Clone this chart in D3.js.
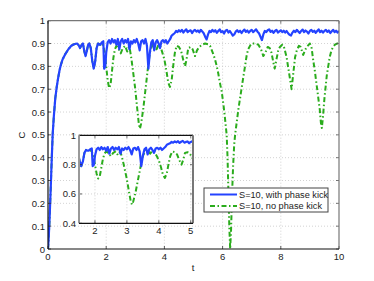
<!DOCTYPE html>
<html>
<head>
<meta charset="utf-8">
<script src="https://cdn.jsdelivr.net/npm/d3@7/dist/d3.min.js"></script>
<style>
body { margin: 0; background: #fff; }
text { font-family: "Liberation Sans", Arial, sans-serif; font-size: 9.5px; fill: #222; }
</style>
</head>
<body>
<svg id="chart" width="374" height="281"></svg>
<script>
// shared start of both runs (t, C)
var riseData = [[0,0],[0.02,0.04],[0.05,0.12],[0.08,0.22],[0.1,0.29],[0.13,0.4],[0.16,0.5],[0.2,0.58],
  [0.25,0.66],[0.3,0.71],[0.35,0.75],[0.4,0.785],[0.45,0.81],[0.5,0.83],[0.6,0.855],[0.7,0.875],
  [0.8,0.89],[0.9,0.897],[1.0,0.9],[1.05,0.893],[1.1,0.88],[1.15,0.893],[1.2,0.9],[1.25,0.865],
  [1.29,0.845],[1.33,0.865],[1.38,0.895],[1.42,0.9],[1.47,0.88],[1.52,0.825],[1.57,0.79],[1.62,0.82],
  [1.67,0.88],[1.72,0.9],[1.78,0.895]];

// S=10, with phase kick
var blueData = [[1.8,0.895],[1.85,0.905],[1.9,0.91],[1.93,0.79],[1.97,0.8],[2.0,0.86],[2.05,0.905],
  [2.1,0.915],[2.15,0.9],[2.2,0.92],[2.25,0.905],[2.3,0.915],[2.35,0.895],[2.4,0.92],[2.45,0.875],
  [2.5,0.91],[2.55,0.92],[2.6,0.9],[2.65,0.915],[2.7,0.905],[2.75,0.92],[2.8,0.875],[2.85,0.91],
  [2.9,0.9],[2.95,0.915],[3.0,0.905],[3.05,0.92],[3.1,0.9],[3.15,0.87],[3.2,0.91],[3.25,0.915],
  [3.3,0.9],[3.35,0.92],[3.4,0.89],[3.45,0.79],[3.5,0.86],[3.55,0.905],[3.6,0.915],[3.65,0.87],
  [3.7,0.905],[3.75,0.915],[3.8,0.9],[3.85,0.88],[3.9,0.91],[3.95,0.915],[4.0,0.905],[4.05,0.915],
  [4.1,0.9],[4.15,0.91],[4.2,0.92],[4.25,0.935],[4.3,0.94],
  [4.35,0.945],[4.4,0.955],[4.45,0.95],[4.5,0.958],[4.55,0.952],[4.6,0.96],[4.65,0.948],[4.7,0.956],
  [4.75,0.962],[4.8,0.95],[4.85,0.955],[4.9,0.958],[4.95,0.946],[5.0,0.955],[5.05,0.96],[5.1,0.952],
  [5.15,0.957],[5.2,0.949],[5.25,0.96],[5.3,0.953],[5.35,0.945],[5.4,0.93],[5.45,0.918],[5.5,0.94],
  [5.55,0.955],[5.6,0.95],[5.65,0.96],[5.7,0.952],[5.75,0.958],[5.8,0.947],[5.85,0.955],[5.9,0.962],
  [5.95,0.95],[6.0,0.954],[6.05,0.944],[6.1,0.956],[6.15,0.96],[6.2,0.948],[6.25,0.955],[6.3,0.945],
  [6.35,0.935],[6.4,0.94],[6.45,0.952],[6.5,0.958],[6.55,0.95],[6.6,0.956],[6.65,0.946],[6.7,0.955],
  [6.75,0.961],[6.8,0.951],[6.85,0.957],[6.9,0.948],[6.95,0.955],[7.0,0.96],[7.05,0.95],[7.1,0.956],
  [7.15,0.962],[7.2,0.952],[7.25,0.945],[7.3,0.93],[7.35,0.915],[7.4,0.94],[7.45,0.955],[7.5,0.95],
  [7.55,0.958],[7.6,0.962],[7.65,0.951],[7.7,0.956],[7.75,0.947],[7.8,0.955],[7.85,0.96],[7.9,0.948],
  [7.95,0.953],[8.0,0.958],[8.05,0.95],[8.1,0.956],[8.15,0.948],[8.2,0.955],[8.25,0.945],[8.3,0.938],
  [8.35,0.935],[8.4,0.948],[8.45,0.956],[8.5,0.95],[8.55,0.96],[8.6,0.953],[8.65,0.946],[8.7,0.955],
  [8.75,0.961],[8.8,0.95],[8.85,0.957],[8.9,0.952],[8.95,0.944],[9.0,0.955],[9.05,0.96],[9.1,0.951],
  [9.15,0.956],[9.2,0.947],[9.25,0.955],[9.3,0.962],[9.35,0.95],[9.4,0.956],[9.45,0.948],[9.5,0.955],
  [9.55,0.96],[9.6,0.951],[9.65,0.957],[9.7,0.946],[9.75,0.954],[9.8,0.96],[9.85,0.95],[9.9,0.956],
  [9.95,0.948],[10,0.955]];

// S=10, no phase kick
var greenData = [[1.8,0.895],[1.85,0.9],[1.9,0.89],[1.95,0.86],[2.0,0.8],[2.05,0.74],[2.1,0.705],
  [2.15,0.72],[2.2,0.78],[2.25,0.84],[2.3,0.875],[2.35,0.89],[2.42,0.88],[2.5,0.857],[2.57,0.88],
  [2.65,0.89],[2.72,0.865],[2.78,0.885],[2.82,0.87],[2.87,0.83],[2.93,0.77],[2.99,0.71],[3.07,0.61],
  [3.12,0.55],[3.16,0.527],[3.2,0.55],[3.27,0.61],[3.36,0.71],[3.44,0.8],[3.5,0.86],[3.56,0.885],
  [3.62,0.9],[3.68,0.89],[3.73,0.875],[3.8,0.895],[3.87,0.885],[3.93,0.86],[4.0,0.83],[4.07,0.78],
  [4.13,0.73],[4.19,0.71],[4.25,0.74],[4.3,0.8],[4.36,0.86],[4.42,0.89],[4.5,0.885],[4.57,0.87],
  [4.65,0.827],[4.71,0.8],[4.76,0.83],[4.82,0.88],[4.9,0.885],[4.97,0.875],[5.05,0.845],[5.12,0.87],
  [5.2,0.885],[5.3,0.895],[5.4,0.9],[5.5,0.897],[5.57,0.89],[5.63,0.87],[5.68,0.854],[5.74,0.83],
  [5.8,0.8],[5.85,0.77],[5.92,0.72],[5.97,0.69],[6.02,0.64],[6.06,0.6],[6.1,0.55],[6.14,0.5],
  [6.17,0.4],[6.2,0.25],[6.23,0.1],[6.26,0.0],[6.29,0.08],[6.32,0.22],[6.36,0.36],[6.4,0.46],
  [6.43,0.5],[6.49,0.56],[6.54,0.61],[6.6,0.66],[6.66,0.71],[6.72,0.76],[6.77,0.8],[6.83,0.85],
  [6.88,0.875],[6.95,0.892],[7.0,0.9],[7.1,0.9],[7.23,0.895],[7.32,0.875],[7.4,0.845],[7.47,0.86],
  [7.55,0.885],[7.62,0.88],[7.68,0.86],[7.74,0.82],[7.79,0.79],[7.85,0.83],[7.92,0.875],[7.97,0.885],
  [8.05,0.895],[8.12,0.88],[8.2,0.84],[8.26,0.79],[8.31,0.75],[8.37,0.7],[8.43,0.77],[8.49,0.84],
  [8.55,0.87],[8.62,0.89],[8.68,0.885],[8.77,0.85],[8.83,0.87],[8.89,0.885],[9.0,0.9],[9.06,0.88],
  [9.11,0.83],[9.17,0.78],[9.23,0.72],[9.29,0.66],[9.34,0.61],[9.38,0.55],[9.41,0.53],[9.45,0.58],
  [9.5,0.66],[9.54,0.71],[9.58,0.76],[9.63,0.8],[9.68,0.84],[9.74,0.87],[9.8,0.885],[9.86,0.895],
  [9.93,0.9],[10,0.9]];

var xTicks = [0, 2, 4, 6, 8, 10];
var yTicks = [0, 0.1, 0.2, 0.3, 0.4, 0.5, 0.6, 0.7, 0.8, 0.9, 1];
var insetXTicks = [2, 3, 4, 5];
var insetYTicks = [0.4, 0.6, 0.8, 1];
var seriesLabels = ['S=10, with phase kick', 'S=10, no phase kick'];

var blue = '#2443ff', green = '#2aac1c';
var dashDot = '5,2.5,1.5,2.5';

var svg = d3.select('#chart');
svg.append('rect').attr('width', 374).attr('height', 281).attr('fill', '#fff');

var series = [
  {data: riseData.concat(blueData), color: blue, dash: null, width: 2.2},
  {data: riseData.concat(greenData), color: green, dash: dashDot, width: 2}
];

function drawPanel(id, box, xDomain, yDomain, xt, yt) {
  var x = d3.scaleLinear().domain(xDomain).range([box.left, box.right]),
      y = d3.scaleLinear().domain(yDomain).range([box.bottom, box.top]),
      g = svg.append('g').attr('class', id);

  g.append('rect')
    .attr('x', box.left).attr('y', box.top)
    .attr('width', box.right - box.left).attr('height', box.bottom - box.top)
    .attr('fill', '#fff');

  g.append('clipPath').attr('id', 'clip-' + id)
    .append('rect')
    .attr('x', box.left).attr('y', box.top)
    .attr('width', box.right - box.left).attr('height', box.bottom - box.top);

  // dotted grid
  g.selectAll('line.gx').data(xt.filter(function (d) { return x(d) > box.left + 1 && x(d) < box.right - 1; }))
    .enter().append('line').attr('class', 'gx')
    .attr('x1', function (d) { return x(d); }).attr('x2', function (d) { return x(d); })
    .attr('y1', box.top).attr('y2', box.bottom)
    .attr('stroke', '#c8c8c8').attr('stroke-width', 0.8).attr('stroke-dasharray', '1,2');
  g.selectAll('line.gy').data(yt.filter(function (d) { return y(d) > box.top + 1 && y(d) < box.bottom - 1; }))
    .enter().append('line').attr('class', 'gy')
    .attr('y1', function (d) { return y(d); }).attr('y2', function (d) { return y(d); })
    .attr('x1', box.left).attr('x2', box.right)
    .attr('stroke', '#c8c8c8').attr('stroke-width', 0.8).attr('stroke-dasharray', '1,2');

  var line = d3.line()
    .x(function (d) { return x(d[0]); })
    .y(function (d) { return y(d[1]); });

  var lines = g.append('g').attr('clip-path', 'url(#clip-' + id + ')');
  // green first so blue sits on top
  [series[1], series[0]].forEach(function (s) {
    lines.append('path')
      .attr('d', line(s.data))
      .attr('fill', 'none')
      .attr('stroke', s.color)
      .attr('stroke-width', s.width)
      .attr('stroke-linejoin', 'round')
      .attr('stroke-dasharray', s.dash);
  });

  // ticks inside, on all four sides
  var tl = 3;
  xt.forEach(function (d) {
    g.append('line').attr('x1', x(d)).attr('x2', x(d)).attr('y1', box.bottom).attr('y2', box.bottom - tl)
      .attr('stroke', '#333').attr('stroke-width', 0.8);
    g.append('line').attr('x1', x(d)).attr('x2', x(d)).attr('y1', box.top).attr('y2', box.top + tl)
      .attr('stroke', '#555').attr('stroke-width', 0.8);
  });
  yt.forEach(function (d) {
    g.append('line').attr('y1', y(d)).attr('y2', y(d)).attr('x1', box.left).attr('x2', box.left + tl)
      .attr('stroke', '#333').attr('stroke-width', 0.8);
    g.append('line').attr('y1', y(d)).attr('y2', y(d)).attr('x1', box.right).attr('x2', box.right - tl)
      .attr('stroke', '#555').attr('stroke-width', 0.8);
  });

  // frame
  g.append('line').attr('x1', box.left).attr('x2', box.right).attr('y1', box.top).attr('y2', box.top)
    .attr('stroke', box.topColor).attr('stroke-width', 1.2);
  g.append('line').attr('x1', box.right).attr('x2', box.right).attr('y1', box.top).attr('y2', box.bottom)
    .attr('stroke', '#777').attr('stroke-width', box.sideWidth);
  g.append('line').attr('x1', box.left).attr('x2', box.left).attr('y1', box.top).attr('y2', box.bottom)
    .attr('stroke', box.leftColor).attr('stroke-width', box.sideWidth);
  g.append('line').attr('x1', box.left).attr('x2', box.right).attr('y1', box.bottom).attr('y2', box.bottom)
    .attr('stroke', '#111').attr('stroke-width', 1.2);

  g.selectAll('text.xl').data(xt).enter().append('text').attr('class', 'xl')
    .attr('x', function (d) { return x(d); })
    .attr('y', box.bottom + 11)
    .attr('text-anchor', 'middle')
    .text(function (d) { return d; });
  g.selectAll('text.yl').data(yt).enter().append('text').attr('class', 'yl')
    .attr('x', box.left - 3)
    .attr('y', function (d) { return y(d) + 3.5; })
    .attr('text-anchor', 'end')
    .text(function (d) { return d; });
}

drawPanel('main', {left: 48, right: 339, top: 20.7, bottom: 249, topColor: '#777', leftColor: '#111', sideWidth: 1.2},
  [0, 10], [0, 1], xTicks, yTicks);
drawPanel('inset', {left: 79, right: 193, top: 135.3, bottom: 223.3, topColor: '#111', leftColor: '#999', sideWidth: 2},
  [1.5, 5.07], [0.4, 1], insetXTicks, insetYTicks);

// axis labels
svg.append('text').attr('x', 193).attr('y', 271).attr('text-anchor', 'middle').text('t');
svg.append('text').attr('transform', 'translate(25,135) rotate(-90)').attr('text-anchor', 'middle').text('C');

// legend
var leg = svg.append('g').attr('transform', 'translate(204,188)');
leg.append('rect').attr('width', 124).attr('height', 24)
  .attr('fill', '#fff').attr('stroke', '#444').attr('stroke-width', 1);
leg.selectAll('g.item').data(seriesLabels).enter().append('g').attr('class', 'item')
  .each(function (d, i) {
    var item = d3.select(this), yy = 6.5 + i * 11.5;
    item.append('line').attr('x1', 6).attr('x2', 33).attr('y1', yy).attr('y2', yy)
      .attr('stroke', series[i].color).attr('stroke-width', 2)
      .attr('stroke-dasharray', series[i].dash);
    item.append('text').attr('x', 35).attr('y', yy + 3.3).style('font-size', '9.2px').text(d);
  });
</script>
</body>
</html>
